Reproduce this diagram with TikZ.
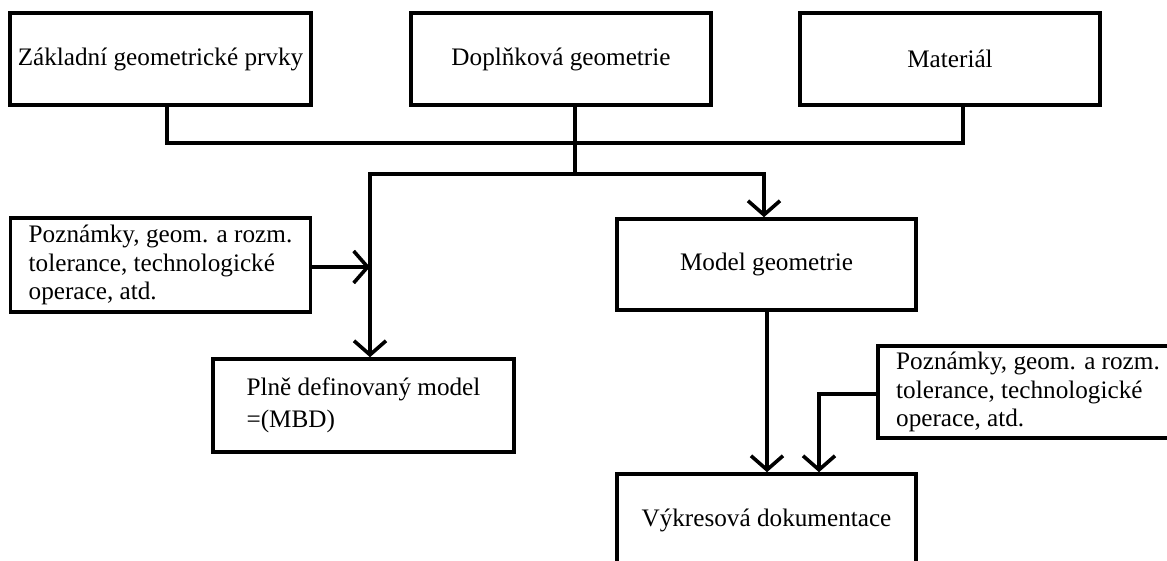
\documentclass[tikz,border=0pt]{standalone}
\usepackage{fontspec}
\setmainfont{Liberation Serif}
\usetikzlibrary{arrows.meta}
\begin{document}
\begin{tikzpicture}[x=0.5pt,y=-0.5pt,
  box/.style={draw,line width=1.8pt,rectangle,minimum width=150pt,minimum height=46pt,inner sep=0pt,font=\fontsize{12.6}{14.25}\selectfont,align=center},
  conn/.style={line width=1.8pt},
  tip/.tip={Straight Barb[length=7pt,width=16pt]},
  arr/.style={conn,-tip}]
\useasboundingbox (0,0) rectangle (1167,561);
\clip (0,0) rectangle (1167,561);
\node[box,minimum width=150.5pt] (zak) at (160.5,59) {Základní geometrické prvky};
\node[box] (dop) at (561,59) {Doplňková geometrie};
\node[box] (mat) at (950,59) {Materiál};
\node[box,minimum height=47pt,align=left] (pozL) at (160.5,265) {Poznámky, geom. a rozm.\\tolerance, technologické\\operace, atd.};
\node[box,minimum width=149.5pt,minimum height=45.5pt] (mod) at (766.5,264.5) {Model geometrie};
\node[box,minimum width=150.5pt,minimum height=46.5pt,align=left] (pln) at (363.5,405.5) {Plně definovaný model\\[1.75pt] =(MBD)};
\node[box,align=left] (pozR) at (1028,392) {Poznámky, geom. a rozm.\\tolerance, technologické\\operace, atd.};
\node[box,minimum width=149.5pt,minimum height=46.5pt] (vyk) at (766.5,520.5) {Výkresová dokumentace};
\coordinate (a) at (167,143);
\coordinate (b) at (963,143);
\coordinate (c) at (575,174);
\coordinate (d) at (370,174);
\coordinate (e) at (764,174);
\coordinate (f) at (370,267);
\coordinate (g) at (767,400);
\coordinate (h) at (819,394);
\draw[conn] (zak.south -| a) -- (a) -- (b) -- (mat.south -| b);
\draw[conn] (dop.south -| c) -- (c);
\draw[conn,tip-tip] (pln.north -| d) -- (d) -- (e) -- (mod.north -| e);
\draw[arr] (pozL.east |- f) -- (f);
\draw[arr] (mod.south -| g) -- (vyk.north -| g);
\draw[arr] (pozR.west |- h) -- (h) -- (vyk.north -| h);
\end{tikzpicture}
\end{document}
